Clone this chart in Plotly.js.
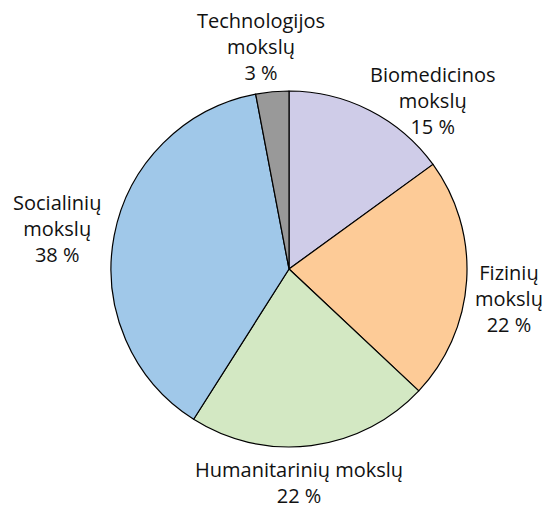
<!DOCTYPE html>
<html>
<head>
<meta charset="utf-8">
<script src="https://cdn.plot.ly/plotly-3.0.1.min.js"></script>
<style>html,body{margin:0;padding:0;background:#fff;}</style>
</head>
<body>
<div id="chart" style="width:545px;height:509px;"></div>
<script>
const categories = ["Biomedicinos<br>mokslų", "Fizinių<br>mokslų", "Humanitarinių mokslų", "Socialinių<br>mokslų", "Technologijos<br>mokslų"];
const values = [15, 22, 22, 38, 3];
const colors = ["#cfcce8", "#fdcb97", "#d3e8c3", "#a0c8e9", "#999999"];

// label block centres in pixels (layout only)
const labelPx = [[433, 100], [509, 298], [299, 482], [57, 228], [261, 47]];

const W = 545, H = 509;
const annotations = categories.map((c, i) => ({
  xref: "paper", yref: "paper",
  x: labelPx[i][0] / W, y: 1 - labelPx[i][1] / H,
  xanchor: "center", yanchor: "middle", align: "center",
  showarrow: false,
  text: c + "<br>" + values[i] + " %",
  font: {family: "Open Sans", size: 20, color: "#111"}
}));

Plotly.newPlot("chart", [{
  type: "pie",
  labels: categories,
  values: values,
  sort: false,
  direction: "clockwise",
  rotation: 0,
  marker: {colors: colors, line: {color: "#000", width: 1.2}},
  textinfo: "none",
  automargin: false,
  hoverinfo: "none",
  domain: {x: [0.2037, 0.8569], y: [0.1218, 0.8212]}
}], {
  width: W, height: H,
  margin: {l: 0, r: 0, t: 0, b: 0},
  showlegend: false,
  paper_bgcolor: "#fff",
  annotations: annotations
}, {displayModeBar: false, staticPlot: true});
</script>
</body>
</html>
